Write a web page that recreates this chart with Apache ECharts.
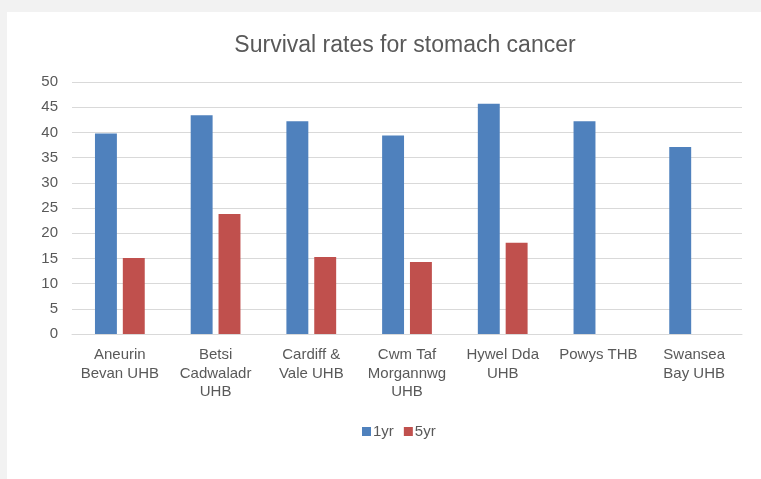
<!DOCTYPE html>
<html>
<head>
<meta charset="utf-8">
<script src="https://cdn.jsdelivr.net/npm/echarts@6/dist/echarts.min.js"></script>
<style>
html,body{margin:0;padding:0;background:#F2F2F2;}
#c{width:761px;height:479px;}
</style>
</head>
<body>
<div id="c"></div>
<script>
const categories = ["Aneurin\nBevan UHB", "Betsi\nCadwaladr\nUHB", "Cardiff &\nVale UHB", "Cwm Taf\nMorgannwg\nUHB", "Hywel Dda\nUHB", "Powys THB", "Swansea\nBay UHB"];
const oneYear = [39.8, 43.4, 42.2, 39.4, 45.7, 42.2, 37.1];
const fiveYear = [15.1, 23.8, 15.3, 14.3, 18.1, null, null];
const seriesNames = ["1yr", "5yr"];

const chart = echarts.init(document.getElementById('c'), null, {renderer: 'canvas'});
const font = 'Liberation Sans, Arial, sans-serif';
chart.setOption({
  backgroundColor: '#F2F2F2',
  animation: false,
  graphic: [{
    type: 'rect', z: -10, silent: true,
    shape: {x: 7, y: 12, width: 754, height: 467},
    style: {fill: '#FFFFFF'}
  }],
  title: {
    text: 'Survival rates for stomach cancer',
    left: 400, top: 29, textAlign: 'center',
    textStyle: {fontFamily: font, fontSize: 23, fontWeight: 'normal', color: '#595959'}
  },
  legend: {
    data: seriesNames,
    left: 357, top: 419,
    itemWidth: 9, itemHeight: 9, itemGap: 10,
    icon: 'rect',
    textStyle: {fontFamily: font, fontSize: 15, color: '#595959', padding: [0, 0, 0, -3]}
  },
  grid: {left: 72, right: 19, top: 82, bottom: 145, containLabel: false},
  xAxis: {
    type: 'category', data: categories,
    axisLine: {lineStyle: {color: '#D9D9D9'}},
    axisTick: {show: false},
    axisLabel: {fontFamily: font, fontSize: 15, color: '#595959', interval: 0, lineHeight: 18.5, margin: 12}
  },
  yAxis: {
    type: 'value', min: 0, max: 50, interval: 5,
    axisLine: {show: false}, axisTick: {show: false},
    axisLabel: {fontFamily: font, fontSize: 15, color: '#595959', margin: 14},
    splitLine: {lineStyle: {color: '#D9D9D9', width: 1}}
  },
  series: [
    {name: seriesNames[0], type: 'bar', data: oneYear, barGap: '27%', barCategoryGap: '48%', itemStyle: {color: '#4F81BD'}},
    {name: seriesNames[1], type: 'bar', data: fiveYear, itemStyle: {color: '#C0504D'}}
  ]
});
</script>
</body>
</html>
